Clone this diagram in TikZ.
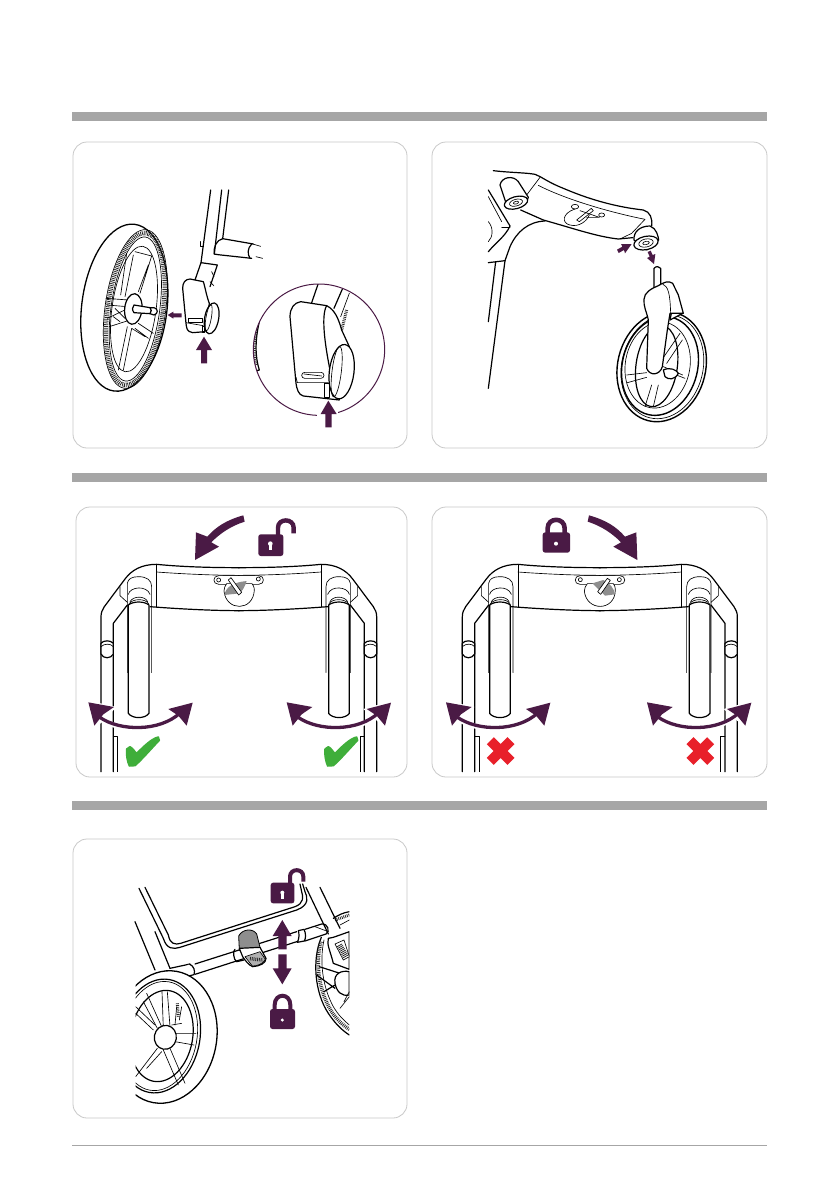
\documentclass[tikz,border=0pt]{standalone}
\usetikzlibrary{arrows.meta}
\definecolor{purp}{HTML}{4A1A45}
\definecolor{okg}{HTML}{3FAE3A}
\definecolor{nored}{HTML}{E8202A}
\definecolor{barg}{HTML}{A6A6A6}
\definecolor{panelg}{HTML}{C9C9C9}
\definecolor{leverg}{HTML}{8E8E8E}
\tikzset{
 ln/.style={draw=black,line width=1.2pt,line join=round,line cap=round},
 lt/.style={draw=black,line width=.65pt,line join=round,line cap=round},
 wf/.style={fill=white},
 panel/.style={draw=panelg,line width=.8pt,rounded corners=14pt,fill=white},
 hbar/.style={fill=barg,draw=none},
 hatchring/.style={draw=black!85,dash pattern=on .8pt off 1pt},
 zoomunits/.style={x=.33333pt,y=-.33333pt}
}
\newcommand{\blockup}[5]{% x, tipy, basey, endy, half head
 \fill[purp] (#1,#2) -- (#1+#5,#3) -- (#1+9,#3) -- (#1+9,#4) -- (#1-9,#4) -- (#1-9,#3) -- (#1-#5,#3) -- cycle;}
\newcommand{\dblarrow}{%
 \draw[white,line width=5pt] (88,640) .. controls (150,682) and (270,682) .. (330,628);
 \fill[white] (48,585) -- (140,606) -- (75,672) -- cycle;
 \fill[white] (376,586) -- (285,612) -- (352,670) -- cycle;
 \draw[purp,line width=3.3pt] (88,636) .. controls (150,680) and (270,680) .. (330,624);
 \fill[purp] (55,592) -- (132,606) -- (100,628) -- (73,662) -- cycle;
 \fill[purp] (368,593) -- (295,612) -- (325,632) -- (350,662) -- cycle;
}
\newcommand{\framehalf}{%
 % outer & inner tube
 \draw[ln] (93,800) -- (93,335) .. controls (93,322) and (97,315) .. (103,305) -- (165,222) .. controls (185,195) and (215,178) .. (260,178) .. controls (340,186) and (430,188) .. (508,188);
 \draw[ln] (130,800) -- (130,355) -- (172,300);
 % collar
 \draw[ln,wf] (93,415) .. controls (100,405) and (122,405) .. (130,415) -- (130,447) .. controls (122,462) and (100,462) .. (93,447) -- cycle;
 \draw[lt] (93,425) .. controls (103,415) and (122,415) .. (130,425);
 % bar panel
 \draw[lt] (260,178) -- (260,305);
 \draw[lt] (260,201) .. controls (340,207) and (430,211) .. (508,211);
 \draw[ln] (240,305) .. controls (330,312) and (430,317) .. (508,317);
 % knob
 \draw[lt] (150,245) -- (150,272) -- (172,292);
 \draw[lt] (172,503) -- (172,235) .. controls (174,222) and (185,215) .. (205,215) .. controls (230,215) and (245,225) .. (245,245) -- (245,503);
 \draw[lt] (175,268) .. controls (180,245) and (230,240) .. (240,268);
 \draw[lt] (180,290) .. controls (190,272) and (225,272) .. (233,290);
 \draw[lt] (177,296) .. controls (190,280) and (225,280) .. (236,296);
 % long tube
 \draw[ln,wf] (175,300) .. controls (190,288) and (222,288) .. (237,300) -- (237,625) .. controls (225,642) and (187,642) .. (175,625) -- cycle;
 % lower guide
 \draw[lt] (130,695) -- (143,695) -- (143,800);
}
\begin{document}
\begin{tikzpicture}[x=1pt,y=-1pt]
\useasboundingbox (0,0) rectangle (839,1191);
\fill[white] (0,0) rectangle (839,1191);
% header bars
\fill[hbar] (72,112) rectangle (767,121);
\fill[hbar] (72,473) rectangle (767,482);
\fill[hbar] (72,801) rectangle (767,810);
\draw[draw=barg,line width=.7pt] (72,1145.5) -- (767,1145.5);
% panels
\draw[panel] (73,142) rectangle (407,448);
\draw[panel] (432,142) rectangle (767,448);
\draw[panel] (76,507) rectangle (407,777);
\draw[panel] (432,507) rectangle (767,777);
\draw[panel] (73,839) rectangle (407,1118);

%%%%%%%%%%%%%%%% PANEL 1
\begin{scope}[shift={(70,140)},zoomunits]
 % wheel
 \draw[ln,line width=1.3pt,rotate around={-7:(163,503)}] (163,503) ellipse [x radius=128,y radius=252];
 \draw[lt,rotate around={-8:(196,507)}] (196,507) ellipse [x radius=91,y radius=240];
 \draw[hatchring,line width=4.4pt,rotate around={-8:(196,507)}] (196,507) ellipse [x radius=83,y radius=230];
 \draw[lt,rotate around={-8:(196,507)}] (196,507) ellipse [x radius=73,y radius=218];
 \draw[lt,rotate around={-8:(192,507)}] (192,507) ellipse [x radius=66,y radius=190];
 % spokes
 \draw[lt] (170,340) -- (152,465) (190,345) -- (165,470);
 \draw[lt] (195,335) -- (245,348) -- (210,460) (205,455) -- (235,375);
 \draw[lt] (108,475) -- (175,480) (112,495) -- (172,500);
 \draw[lt] (112,535) -- (175,505) (118,560) -- (180,540) (135,505) -- (165,535) (130,530) -- (150,545);
 \draw[lt] (205,550) -- (250,580) (195,565) -- (235,595) (185,565) -- (225,590) (160,690) -- (185,565) (145,690) -- (172,560);
 \draw[ln,wf,rotate around={-6:(190,507)}] (190,507) ellipse [x radius=26,y radius=46];
 % axle
 \draw[ln,wf] (192,495) -- (240,503) .. controls (245,503) and (245,518) .. (240,521) -- (192,518) .. controls (186,510) and (186,502) .. (192,495) -- cycle;
 \draw[ln,wf] (240,503) -- (252,503) .. controls (265,505) and (265,522) .. (252,525) -- (240,521) .. controls (245,515) and (245,508) .. (240,503) -- cycle;
 % arm
 \draw[ln] (422,150) -- (393,368);
 \draw[ln] (455,150) -- (433,342);
 \draw[ln] (476,150) -- (458,296);
 \draw[ln] (392,305) -- (392,320) -- (400,320);
 \draw[ln] (458,296) -- (550,312);
 \draw[ln] (433,342) -- (444,344) -- (545,355);
 \draw[ln] (458,296) .. controls (440,300) and (430,320) .. (433,342);
 \draw[ln] (545,312) .. controls (532,325) and (532,342) .. (540,355);
 \draw[lt] (548,312) -- (572,319) (558,350) -- (578,355);
 \draw[ln] (393,368) -- (375,420) (393,368) -- (442,375) -- (420,440);
 \draw[lt] (425,395) -- (432,410) (420,425) -- (432,438);
 % clip body
 \draw[ln,wf] (360,417) -- (400,425) .. controls (405,440) and (410,470) .. (418,490) -- (405,575) -- (368,578) .. controls (350,575) and (350,565) .. (348,550) -- (338,445) .. controls (338,428) and (345,418) .. (360,417) -- cycle;
 \draw[ln,wf,rotate around={-10:(425,535)}] (425,535) ellipse [x radius=21,y radius=47];
 \draw[lt,rotate around={-10:(416,533)}] (416,533) ellipse [x radius=8,y radius=40];
 \draw[lt] (356,535) rectangle (396,547);
 \draw[lt] (348,548) -- (400,557);
 \draw[lt] (396,560) rectangle (404,578);
 \blockup{402}{590}{630}{670}{24}
 \fill[purp] (293,525) -- (310,515) -- (310,520) -- (335,520) -- (335,532) -- (310,532) -- (310,536) -- cycle;
 % zoom circle
 \begin{scope}
 \clip (747,629) circle [radius=197];
 \draw[ln,wf] (568,545) .. controls (555,600) and (555,650) .. (568,690) -- (530,700) -- (530,540) -- cycle;
 \draw[hatchring,line width=3.6pt] (558,560) .. controls (552,600) and (552,640) .. (556,675);
 \draw[ln] (745,430) -- (725,488);
 \draw[ln] (818,445) -- (792,505);
 \draw[hatchring,line width=3pt] (830,510) -- (815,570);
 \draw[lt] (838,460) -- (812,530);
 \draw[ln,wf] (692,485) -- (770,497) .. controls (795,510) and (805,535) .. (815,570) -- (838,620) -- (808,780) -- (700,768) .. controls (685,765) and (680,745) .. (678,730) -- (660,530) .. controls (660,505) and (672,488) .. (692,485) -- cycle;
 \end{scope}
 \draw[ln] (770,497) .. controls (750,530) and (770,640) .. (780,690);
 \draw[ln,wf,rotate around={-7:(815,695)}] (815,695) ellipse [x radius=37,y radius=82];
 \draw[lt,rotate around={-7:(800,695)}] (800,695) ellipse [x radius=14,y radius=76];
 \draw[lt,rounded corners=3pt] (695,697) rectangle (762,715);
 \draw[lt] (702,702) -- (755,708);
 \draw[lt] (678,712) -- (682,728) -- (775,728);
 \draw[ln] (764,730) rectangle (778,772);
 \draw[purp,line width=1pt] (747,629) circle [radius=197];
 \fill[white] (742,803) rectangle (803,840);
 \fill[purp] (775,782) -- (800,822) -- (785,822) -- (785,862) -- (766,862) -- (766,822) -- (752,822) -- cycle;
\end{scope}

%%%%%%%%%%%%%%%% PANEL 2
\begin{scope}[shift={(430,140)},zoomunits]
 % left pieces
 \draw[ln] (175,150) -- (240,258) .. controls (225,290) and (200,305) .. (175,335);
 \draw[lt] (175,170) -- (215,245);
 \draw[lt] (175,245) .. controls (190,262) and (190,290) .. (175,305);
 \draw[lt] (215,262) -- (240,262);
 \draw[ln] (175,368) -- (225,362);
 \draw[ln] (197,365) -- (175,545);
 \draw[ln] (225,362) -- (175,745);
 \draw[ln] (345,243) .. controls (295,245) and (260,275) .. (240,320) -- (225,362);
 % bar
 \draw[ln] (190,92) .. controls (240,98) and (290,98) .. (315,103) .. controls (335,110) and (350,125) .. (400,145) .. controls (470,175) and (550,200) .. (640,210) .. controls (660,215) and (668,235) .. (665,258);
 \draw[lt] (325,136) .. controls (400,175) and (530,215) .. (645,238);
 \draw[ln] (272,210) -- (340,240) .. controls (430,265) and (500,290) .. (565,297) -- (608,293);
 \draw[lt] (330,112) -- (290,165);
 \draw[lt] (645,238) -- (605,280) -- (570,297);
 % left knob
 \draw[ln,wf] (210,135) .. controls (215,110) and (250,105) .. (265,125) -- (295,172) .. controls (290,195) and (250,212) .. (230,195) -- cycle;
 \draw[ln,wf,rotate around={15:(258,188)}] (258,188) ellipse [x radius=36,y radius=18];
 \draw[lt,rotate around={15:(258,188)}] (258,188) ellipse [x radius=20,y radius=10];
 \draw[lt,rotate around={15:(258,188)}] (258,188) ellipse [x radius=8,y radius=4];
 % right knob
 \draw[ln,wf] (612,300) .. controls (610,275) and (630,258) .. (660,258) .. controls (680,265) and (685,290) .. (686,300) -- (650,330) -- cycle;
 \draw[ln,wf,rotate around={12:(648,309)}] (648,309) ellipse [x radius=37,y radius=20];
 \draw[lt,rotate around={12:(648,309)}] (648,309) ellipse [x radius=22,y radius=12];
 \draw[lt,rotate around={12:(648,309)}] (648,309) ellipse [x radius=10,y radius=5];
 % mechanism
 \draw[lt] (435,200) ellipse [x radius=11,y radius=7];
 \draw[lt] (515,225) ellipse [x radius=9,y radius=6];
 \draw[lt] (435,207) .. controls (395,220) and (395,250) .. (420,255) .. controls (445,262) and (470,245) .. (478,225);
 \draw[lt] (440,240) -- (484,205) -- (490,212) -- (448,245) -- cycle;
 \draw[lt] (450,212) -- (508,232) -- (470,232);
 % wheel
 \draw[ln,line width=1.4pt,rotate around={-14:(695,680)}] (695,680) ellipse [x radius=132,y radius=167];
 \draw[ln,line width=1.4pt,rotate around={-14:(690,678)}] (690,678) ellipse [x radius=113,y radius=150];
 \draw[lt,rotate around={-14:(697,680)}] (697,680) ellipse [x radius=122,y radius=158];
 \draw[lt,rotate around={-10:(683,675)}] (683,675) ellipse [x radius=97,y radius=130];
 \draw[ln,rotate around={-8:(680,678)}] (680,678) ellipse [x radius=62,y radius=123];
 % spokes
 \draw[lt] (590,705) -- (650,698) (592,728) -- (650,712);
 \draw[lt] (665,735) -- (645,800) (685,735) -- (670,800);
 \draw[lt] (700,690) -- (765,715) (700,680) -- (758,705);
 \draw[lt] (695,660) -- (750,580) (710,670) -- (757,600);
 \draw[ln,wf] (700,690) .. controls (720,680) and (740,690) .. (745,700) .. controls (735,720) and (715,720) .. (705,710) -- cycle;
 % pin & fork
 \draw[ln,wf] (672,385) .. controls (678,378) and (688,378) .. (692,385) -- (692,455) -- (672,455) -- cycle;
 \draw[ln,wf] (730,490) .. controls (745,488) and (755,505) .. (758,520) -- (720,540) -- cycle;
 \draw[lt] (722,510) .. controls (735,500) and (745,505) .. (750,520);
 \draw[ln,wf] (642,478) .. controls (642,458) and (665,445) .. (685,437) .. controls (700,428) and (715,420) .. (728,430) -- (745,465) -- (760,520) -- (720,520) -- (712,570) -- (697,680) .. controls (690,705) and (660,710) .. (650,685) -- (655,540) .. controls (650,515) and (640,500) .. (642,478) -- cycle;
 \draw[lt] (698,432) .. controls (715,440) and (720,460) .. (722,520);
 % arrows
 \fill[purp] (605,312) -- (585,340) -- (582,330) -- (566,339) -- (561,329) -- (577,320) -- (573,312) -- cycle;
 \fill[purp] (672,372) -- (676,342) -- (668,345) -- (662,332) -- (653,336) -- (659,350) -- (651,354) -- cycle;
\end{scope}

%%%%%%%%%%%%%%%% PANEL 3
\begin{scope}[shift={(70,505)},zoomunits]
 \framehalf
 \begin{scope}[shift={(1013,0)},xscale=-1]\framehalf\end{scope}
 % dial
 \draw[lt] (446,212) -- (566,212) .. controls (585,212) and (585,238) .. (566,238) -- (446,238) .. controls (427,238) and (427,212) .. (446,212) -- cycle;
 \draw[lt,wf] (462,258) .. controls (468,320) and (550,320) .. (553,255) .. controls (553,245) and (548,238) .. (546,236) -- (470,236) .. controls (465,242) and (462,250) .. (462,258) -- cycle;
 \draw[lt] (446,225) circle [radius=6];
 \draw[lt] (565,222) circle [radius=6];
 \fill[leverg] (463,270) .. controls (468,245) and (490,232) .. (530,228) .. controls (525,245) and (518,255) .. (510,265) -- cycle;
 \draw[lt,wf] (475,225) -- (483,218) -- (515,262) -- (506,270) -- cycle;
 % lock
 \draw[purp,line width=4.4pt] (624,90) -- (624,68) .. controls (624,39) and (671,39) .. (671,68) -- (671,85);
 \fill[purp,rounded corners=2.5pt] (565,88) rectangle (640,153);
 \fill[white] (601,116) circle [radius=7];
 \fill[white] (597,116) rectangle (605,135);
 % big arrow
 \fill[purp] (520,31) .. controls (470,45) and (438,65) .. (412,95) -- (378,82) -- (375,165) -- (447,125) -- (424,112) .. controls (450,85) and (485,62) .. (524,50) -- cycle;
 % double arrows
 \dblarrow
 \begin{scope}[shift={(595,0)}]\dblarrow\end{scope}
 % checks
 \foreach \dx in {0,595}{
 \begin{scope}[shift={(\dx,0)}]
 \fill[okg,draw=okg,line width=1.5pt,line join=round] (170,732) -- (180,725) .. controls (190,730) and (195,742) .. (200,745) .. controls (220,725) and (245,700) .. (265,696) -- (268,706) .. controls (245,730) and (215,765) .. (195,782) -- (178,783) .. controls (172,770) and (168,750) .. (170,732) -- cycle;
 \end{scope}}
\end{scope}

%%%%%%%%%%%%%%%% PANEL 4
\begin{scope}[shift={(430,505)},zoomunits]
 \begin{scope}[shift={(4,0)}]\framehalf\end{scope}
 \begin{scope}[shift={(1015,0)},xscale=-1]\framehalf\end{scope}
 % dial
 \draw[lt] (450,212) -- (570,212) .. controls (589,212) and (589,238) .. (570,238) -- (450,238) .. controls (431,238) and (431,212) .. (450,212) -- cycle;
 \draw[lt,wf] (463,258) .. controls (469,320) and (555,320) .. (556,255) .. controls (556,245) and (552,238) .. (550,236) -- (472,236) .. controls (467,242) and (463,250) .. (463,258) -- cycle;
 \draw[lt] (451,224) circle [radius=6];
 \draw[lt] (568,224) circle [radius=6];
 \fill[leverg] (487,235) -- (520,225) .. controls (540,235) and (552,250) .. (555,268) -- (525,272) -- cycle;
 \draw[lt,wf] (503,260) -- (532,220) -- (541,226) -- (512,268) -- cycle;
 % lock
 \draw[purp,line width=4.6pt] (353,85) -- (353,70) .. controls (353,36) and (404,36) .. (404,70) -- (404,85);
 \fill[purp,rounded corners=2.5pt] (338,82) rectangle (420,143);
 \fill[white] (378,116) circle [radius=6];
 % big arrow
 \fill[purp] (477,31) .. controls (527,45) and (559,65) .. (585,95) -- (619,82) -- (622,165) -- (550,125) -- (573,112) .. controls (547,85) and (512,62) .. (473,50) -- cycle;
 % double arrows
 \begin{scope}[shift={(-7,0)}]\dblarrow\end{scope}
 \begin{scope}[shift={(596,0)}]\dblarrow\end{scope}
 % crosses
 \draw[nored,line width=10pt] (181,707) -- (243,769) (243,707) -- (181,769);
 \draw[nored,line width=10pt] (780,707) -- (842,769) (842,707) -- (780,769);
\end{scope}

%%%%%%%%%%%%%%%% PANEL 5
\begin{scope}[shift={(120,860)},zoomunits]
 % right wheel
 \begin{scope}
 \clip (500,60) rectangle (688,530);
 \draw[ln] (604,232) .. controls (575,300) and (585,400) .. (625,460) .. controls (645,490) and (665,510) .. (688,525);
 \draw[hatchring,line width=3.6pt] (603,245) .. controls (585,310) and (597,395) .. (635,455) .. controls (650,478) and (668,495) .. (688,508);
 \draw[lt] (612,240) .. controls (597,310) and (610,385) .. (640,440) .. controls (655,465) and (670,480) .. (688,495);
 \draw[ln] (640,175) .. controls (655,165) and (670,158) .. (688,155);
 \draw[hatchring,line width=3pt] (645,180) -- (688,165);
 \draw[lt] (660,195) -- (688,180);
 \draw[ln,wf] (625,235) -- (640,232) -- (688,215) -- (688,328) -- (640,310) .. controls (630,270) and (620,255) .. (625,235) -- cycle;
 \draw[lt,wf] (645,252) -- (672,240) -- (688,290) -- (670,300) -- cycle;
 \draw[hatchring,line width=6pt] (658,255) -- (678,290);
 \draw[ln] (598,320) -- (660,340) (590,345) -- (645,385) (612,395) -- (645,375);
 \draw[ln,wf] (645,370) .. controls (640,340) and (665,330) .. (688,335) -- (688,405) .. controls (665,410) and (650,395) .. (645,370) -- cycle;
 \draw[lt] (672,425) -- (688,395) (660,445) -- (688,410);
 \end{scope}
 % frame
 \draw[ln] (57,85) -- (130,235) .. controls (140,268) and (160,268) .. (180,262) -- (530,150) .. controls (570,135) and (562,110) .. (555,95) -- (548,72);
 \draw[ln] (75,82) -- (145,225) .. controls (150,252) and (165,255) .. (182,250) -- (525,140) .. controls (552,130) and (550,110) .. (545,95) -- (540,72);
 \draw[ln] (45,185) -- (105,330);
 \draw[ln] (105,215) -- (150,325);
 \draw[ln] (558,82) -- (625,222);
 \draw[ln] (600,82) -- (660,205);
 % cross bar
 \draw[ln] (150,325) -- (210,312);
 \draw[ln] (225,312) -- (530,215);
 \draw[ln] (225,343) -- (530,245);
 \draw[ln] (555,208) -- (605,192) .. controls (625,190) and (630,215) .. (618,222) -- (555,243);
 \draw[ln,wf] (208,312) .. controls (222,318) and (226,332) .. (222,344) -- (205,348) -- (172,345);
 \draw[ln,wf] (535,212) -- (552,208) .. controls (558,220) and (558,235) .. (553,243) -- (532,247) .. controls (538,235) and (538,222) .. (535,212) -- cycle;
 \draw[lt] (585,200) -- (625,215);
 % lever
 \draw[ln] (345,268) .. controls (338,270) and (340,300) .. (350,305) -- (372,300);
 \fill[leverg,draw=black,line width=.8pt,line join=round] (356,228) .. controls (368,205) and (400,205) .. (410,222) -- (420,262) -- (375,290) -- (358,270) -- cycle;
 \draw[ln,wf] (358,265) -- (420,262) -- (438,295) .. controls (438,310) and (420,318) .. (398,320) .. controls (385,315) and (375,300) .. (368,290) -- cycle;
 \draw[lt,fill=leverg!70] (375,290) -- (420,275) -- (436,298) .. controls (430,312) and (410,318) .. (397,318) -- cycle;
 \draw[hatchring,line width=3.5pt] (390,296) -- (428,300);
 % left wheel
 \begin{scope}
 \clip (47,320) rectangle (320,740);
 \draw[ln,wf,line width=1.3pt,rotate around={-10:(135,531)}] (135,531) ellipse [x radius=155,y radius=200];
 \draw[ln,rotate around={-10:(118,528)}] (118,528) ellipse [x radius=122,y radius=172];
 \draw[lt,rotate around={-10:(118,528)}] (118,528) ellipse [x radius=113,y radius=165];
 \draw[ln,rotate around={-10:(125,528)}] (125,528) ellipse [x radius=93,y radius=138];
 \draw[lt] (126,395) -- (130,505) (142,395) -- (150,500);
 \draw[lt] (80,400) -- (125,500) (70,425) -- (112,505);
 \draw[lt] (47,440) -- (105,495) (47,460) -- (100,510);
 \draw[lt] (155,495) -- (185,490) (165,520) -- (228,520) (165,545) -- (222,555);
 \draw[lt] (150,565) -- (195,670) (130,570) -- (175,675);
 \draw[lt] (112,565) -- (47,650) (125,575) -- (80,625);
 \draw[lt] (170,440) -- (165,495) (185,440) -- (178,480);
 \draw[hatchring,line width=3pt] (172,430) -- (175,470);
 \draw[ln,wf,rotate around={-10:(136,532)}] (136,532) ellipse [x radius=33,y radius=36];
 \end{scope}
 % locks
 \draw[purp,line width=4pt] (510,70) -- (510,50) .. controls (510,24) and (550,24) .. (550,50) -- (550,65);
 \fill[purp,rounded corners=2.5pt] (452,68) rectangle (523,130);
 \fill[white] (487,98) circle [radius=6];
 \fill[white] (483,98) rectangle (491,117);
 \draw[purp,line width=4pt] (464,450) -- (464,435) .. controls (464,398) and (511,398) .. (511,435) -- (511,450);
 \fill[purp,rounded corners=2.5pt] (450,447) rectangle (525,507);
 \fill[white] (487,480) circle [radius=5];
 % arrows
 \fill[purp] (487,180) -- (515,228) -- (500,228) -- (500,268) -- (475,268) -- (475,228) -- (458,228) -- cycle;
 \fill[purp] (487,373) -- (515,325) -- (500,325) -- (500,283) -- (475,283) -- (475,325) -- (458,325) -- cycle;
\end{scope}
\end{tikzpicture}
\end{document}
